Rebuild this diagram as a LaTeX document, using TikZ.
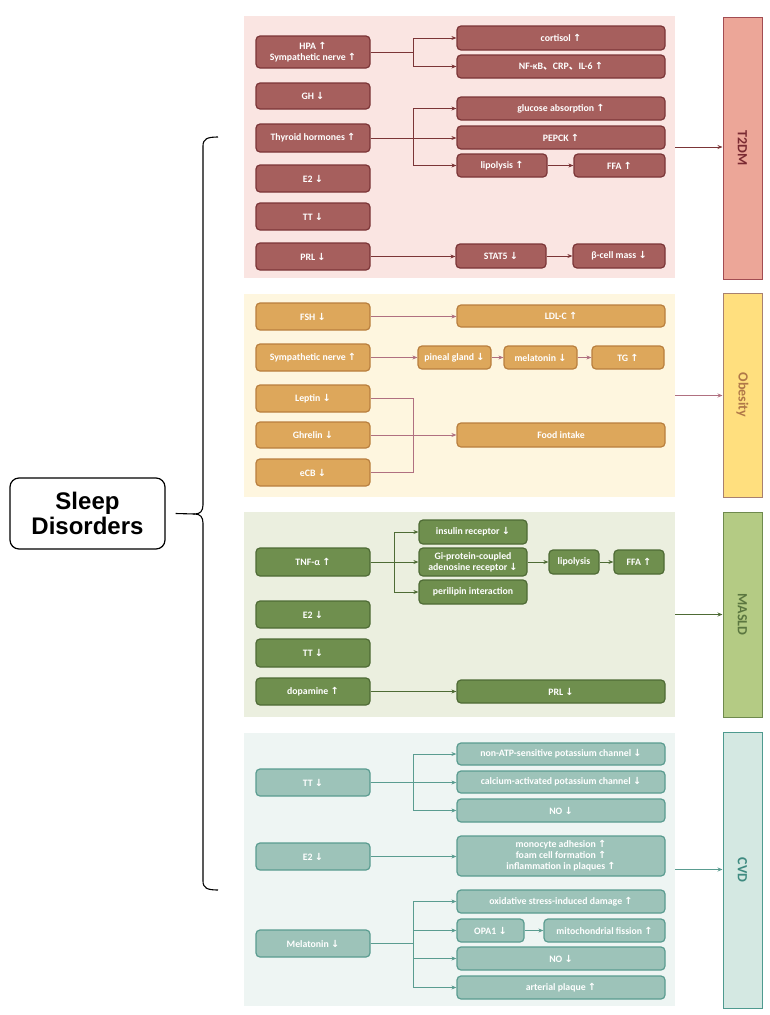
\documentclass[tikz,border=0pt]{standalone}
\usepackage{fontspec}
\setmainfont{Carlito}
\newfontfamily\arrfont{DejaVu Sans}
\newfontfamily\cjkfont{Noto Sans CJK SC}
\newfontfamily\arialfont{Liberation Sans}
\usetikzlibrary{arrows.meta}
\newcommand\upar{{\arrfont\bfseries\char"2191}}
\newcommand\dnar{{\arrfont\bfseries\char"2193}}
\newcommand\cjkcomma{{\cjkfont 、}}
\definecolor{tFill}{HTML}{A65F5D}
\definecolor{tDraw}{HTML}{7B3537}
\definecolor{tBg}{HTML}{FAE5E2}
\definecolor{tLab}{HTML}{ECA698}
\definecolor{tLabD}{HTML}{A24C52}
\definecolor{tTxt}{HTML}{7A2A32}
\definecolor{oFill}{HTML}{DDA75B}
\definecolor{oDraw}{HTML}{B97F3E}
\definecolor{oBg}{HTML}{FEF6DF}
\definecolor{oLab}{HTML}{FFDF7E}
\definecolor{oLabD}{HTML}{A88070}
\definecolor{oTxt}{HTML}{B07848}
\definecolor{oArr}{HTML}{B07080}
\definecolor{mFill}{HTML}{6F8F4E}
\definecolor{mDraw}{HTML}{4E6B35}
\definecolor{mBg}{HTML}{EBEFDF}
\definecolor{mLab}{HTML}{B4CB84}
\definecolor{mLabD}{HTML}{6F8A4E}
\definecolor{mTxt}{HTML}{5B7640}
\definecolor{cFill}{HTML}{9DC3B9}
\definecolor{cDraw}{HTML}{5A9C90}
\definecolor{cBg}{HTML}{EEF5F3}
\definecolor{cLab}{HTML}{D4E8E2}
\definecolor{cLabD}{HTML}{4E9A8F}
\definecolor{cTxt}{HTML}{3E8A80}
% box macro: style, name, x1, y1, x2, y2, text
\newcommand\bx[7]{\node[#1, minimum width={(#5-#3)*1pt}, minimum height={(#6-#4)*1pt}] (#2) at ({(#3+#5)/2},{(#4+#6)/2}) {#7};}
\tikzset{
  base/.style={rounded corners=4pt, line width=1.2pt, inner sep=0pt, align=center, text=white, font=\fontsize{9.8}{11}\selectfont\bfseries},
  tbox/.style={base, fill=tFill, draw=tDraw},
  obox/.style={base, fill=oFill, draw=oDraw},
  mbox/.style={base, fill=mFill, draw=mDraw},
  cbox/.style={base, fill=cFill, draw=cDraw},
  panel/.style={inner sep=0pt, draw=none},
  lab/.style={inner sep=0pt, line width=1pt, font=\fontsize{14}{16}\selectfont\bfseries},
  arr/.style={line width=1pt, -{Stealth[length=5pt,width=4pt]}},
  ln/.style={line width=1pt},
  tarr/.style={arr, draw=tDraw},
  tln/.style={ln, draw=tDraw},
  oarr/.style={arr, draw=oArr},
  oln/.style={ln, draw=oArr},
  marr/.style={arr, draw=mDraw},
  mln/.style={ln, draw=mDraw},
  carr/.style={arr, draw=cDraw},
  cln/.style={ln, draw=cDraw},
}
\begin{document}
\begin{tikzpicture}[x=1pt,y=-1pt]
\useasboundingbox[fill=white] (0,0) rectangle (769,1015);
% panels
\bx{panel, fill=tBg}{p1}{244}{16}{675}{278}{}
\bx{panel, fill=oBg}{p2}{244}{294}{675}{497}{}
\bx{panel, fill=mBg}{p3}{244}{512}{675}{717}{}
\bx{panel, fill=cBg}{p4}{244}{733}{675}{1006}{}
% labels
\bx{lab, fill=tLab, draw=tLabD, text=tTxt}{l1}{723}{17}{762}{279}{}
\bx{lab, fill=oLab, draw=oLabD, text=oTxt}{l2}{723}{293}{762}{497}{}
\bx{lab, fill=mLab, draw=mLabD, text=mTxt}{l3}{723}{512}{762}{717}{}
\bx{lab, fill=cLab, draw=cLabD, text=cTxt}{l4}{723}{732}{762}{1008}{}
\node[lab, text=tTxt, rotate=-90] (l1t) at (l1.center) {T2DM};
\node[lab, text=oTxt, rotate=-90] (l2t) at (l2.center) {Obesity};
\node[lab, text=mTxt, rotate=-90] (l3t) at (l3.center) {MASLD};
\node[lab, text=cTxt, rotate=-90] (l4t) at (l4.center) {CVD};
\draw[tarr] (p1.east) -- (p1.east -| l1.west);
\draw[oarr] (p2.east) -- (p2.east -| l2.west);
\draw[marr] (p3.east) -- (p3.east -| l3.west);
\draw[carr] (p4.east) -- (p4.east -| l4.west);
% ---------- T2DM ----------
\bx{tbox}{hpa}{256}{36}{370}{68}{HPA \upar\\Sympathetic nerve \upar}
\bx{tbox}{gh}{256}{83}{370}{109}{GH \dnar}
\bx{tbox}{thy}{256}{124}{370}{152}{Thyroid hormones \upar}
\bx{tbox}{e2a}{256}{165}{370}{192}{E2 \dnar}
\bx{tbox}{tta}{256}{203}{370}{230}{TT \dnar}
\bx{tbox}{prla}{256}{243}{370}{270}{PRL \dnar}
\bx{tbox}{cort}{457}{26}{665}{50}{cortisol \upar}
\bx{tbox}{nfkb}{457}{55}{665}{78}{NF-κB\cjkcomma CRP\cjkcomma IL-6 \upar}
\bx{tbox}{glu}{457}{97}{665}{120}{glucose absorption \upar}
\bx{tbox}{pep}{457}{126}{665}{149}{PEPCK \upar}
\bx{tbox}{lip}{457}{154}{547}{177}{lipolysis \upar}
\bx{tbox}{ffa}{574}{154}{665}{177}{FFA \upar}
\bx{tbox}{stat}{456}{244}{546}{268}{STAT5 \dnar}
\bx{tbox}{beta}{573}{244}{665}{268}{β-cell mass \dnar}
\draw[tarr] (hpa.east) -- ++(43,0) |- (cort.west);
\draw[tarr] (hpa.east) -- ++(43,0) |- (nfkb.west);
\draw[tarr] (thy.east) -- (thy.east -| pep.west);
\draw[tarr] (thy.east) -- ++(43,0) |- (glu.west);
\draw[tarr] (thy.east) -- ++(43,0) |- (lip.west);
\draw[tarr] (lip.east) -- (ffa.west);
\draw[tarr] (prla.east) -- (prla.east -| stat.west);
\draw[tarr] (stat.east) -- (beta.west);
% ---------- Obesity ----------
\bx{obox}{fsh}{256}{303}{370}{330}{FSH \dnar}
\bx{obox}{sym}{256}{344}{370}{371}{Sympathetic nerve \upar}
\bx{obox}{lep}{256}{385}{370}{412}{Leptin \dnar}
\bx{obox}{ghr}{256}{422}{370}{448}{Ghrelin \dnar}
\bx{obox}{ecb}{256}{459}{370}{486}{eCB \dnar}
\bx{obox}{ldl}{457}{305}{665}{327}{LDL-C \upar}
\bx{obox}{pin}{418}{346}{491}{369}{pineal gland \dnar}
\bx{obox}{mel}{504}{346}{577}{369}{melatonin \dnar}
\bx{obox}{tg}{592}{346}{664}{369}{TG \upar}
\bx{obox}{food}{457}{423}{665}{447}{Food intake}
\draw[oarr] (fsh.east) -- (fsh.east -| ldl.west);
\draw[oarr] (sym.east) -- (sym.east -| pin.west);
\draw[oarr] (pin.east) -- (mel.west);
\draw[oarr] (mel.east) -- (tg.west);
\draw[oln] (lep.east) -- ++(43,0) |- (ecb.east);
\draw[oarr] (ghr.east) -- (ghr.east -| food.west);
% ---------- MASLD ----------
\bx{mbox}{tnf}{256}{548}{370}{576}{TNF-α \upar}
\bx{mbox}{e2m}{256}{601}{370}{628}{E2 \dnar}
\bx{mbox}{ttm}{256}{639}{370}{667}{TT \dnar}
\bx{mbox}{dop}{256}{678}{370}{705}{dopamine \upar}
\bx{mbox}{ins}{419}{520}{527}{544}{insulin receptor \dnar}
\bx{mbox}{gi}{419}{548}{527}{576}{Gi-protein-coupled\\adenosine receptor \dnar}
\bx{mbox}{per}{419}{580}{527}{604}{perilipin interaction}
\bx{mbox}{lipm}{549}{550}{599}{574}{lipolysis}
\bx{mbox}{ffam}{614}{550}{664}{574}{FFA \upar}
\bx{mbox}{prlm}{457}{680}{665}{703}{PRL \dnar}
\draw[marr] (tnf.east) -- (gi.west);
\draw[marr] (tnf.east) -- ++(24,0) |- (ins.west);
\draw[marr] (tnf.east) -- ++(24,0) |- (per.west);
\draw[marr] (gi.east) -- (gi.east -| lipm.west);
\draw[marr] (lipm.east) -- (ffam.west);
\draw[marr] (dop.east) -- (dop.east -| prlm.west);
% ---------- CVD ----------
\bx{cbox}{ttc}{256}{769}{370}{796}{TT \dnar}
\bx{cbox}{e2c}{256}{843}{370}{870}{E2 \dnar}
\bx{cbox}{melc}{256}{930}{370}{957}{Melatonin \dnar}
\bx{cbox}{nonatp}{457}{743}{665}{765}{non-ATP-sensitive potassium channel \dnar}
\bx{cbox}{calc}{457}{771}{665}{793}{calcium-activated potassium channel \dnar}
\bx{cbox}{noa}{457}{799}{665}{822}{NO \dnar}
\bx{cbox}{mono}{457}{836}{665}{876}{monocyte adhesion \upar\\foam cell formation \upar\\inflammation in plaques \upar}
\bx{cbox}{oxi}{457}{890}{665}{913}{oxidative stress-induced damage \upar}
\bx{cbox}{opa}{457}{919}{524}{942}{OPA1 \dnar}
\bx{cbox}{mito}{544}{919}{665}{942}{mitochondrial fission \upar}
\bx{cbox}{nob}{457}{947}{665}{970}{NO \dnar}
\bx{cbox}{art}{457}{976}{665}{999}{arterial plaque \upar}
\draw[carr] (ttc.east) -- (ttc.east -| calc.west);
\draw[carr] (ttc.east) -- ++(43,0) |- (nonatp.west);
\draw[carr] (ttc.east) -- ++(43,0) |- (noa.west);
\draw[carr] (e2c.east) -- (e2c.east -| mono.west);
\draw[carr] (melc.east) -- ++(43,0) |- (oxi.west);
\draw[carr] (melc.east) -- ++(43,0) |- (opa.west);
\draw[carr] (melc.east) -- ++(43,0) |- (nob.west);
\draw[carr] (melc.east) -- ++(43,0) |- (art.west);
\draw[carr] (opa.east) -- (mito.west);
% ---------- Sleep disorders ----------
\node[draw=black, line width=1.2pt, rounded corners=9pt, minimum width=155pt, minimum height=71pt, align=center, inner sep=0pt, font=\arialfont\fontsize{24}{25}\selectfont\bfseries] (sd) at (87.5,513.5) {Sleep\\Disorders};
\coordinate (tip) at (195,514);
\draw[line width=1.1pt] (218,137) .. controls (207,137) and (203,139) .. (203,146) -- (203,505) .. controls (203,511) and (200,514) .. (tip) .. controls (200,514) and (203,517) .. (203,523) -- (203,881) .. controls (203,888) and (207,890) .. (218,890);
\draw[line width=1.1pt] ([xshift=10pt]sd.east) -- (tip);
\end{tikzpicture}
\end{document}
